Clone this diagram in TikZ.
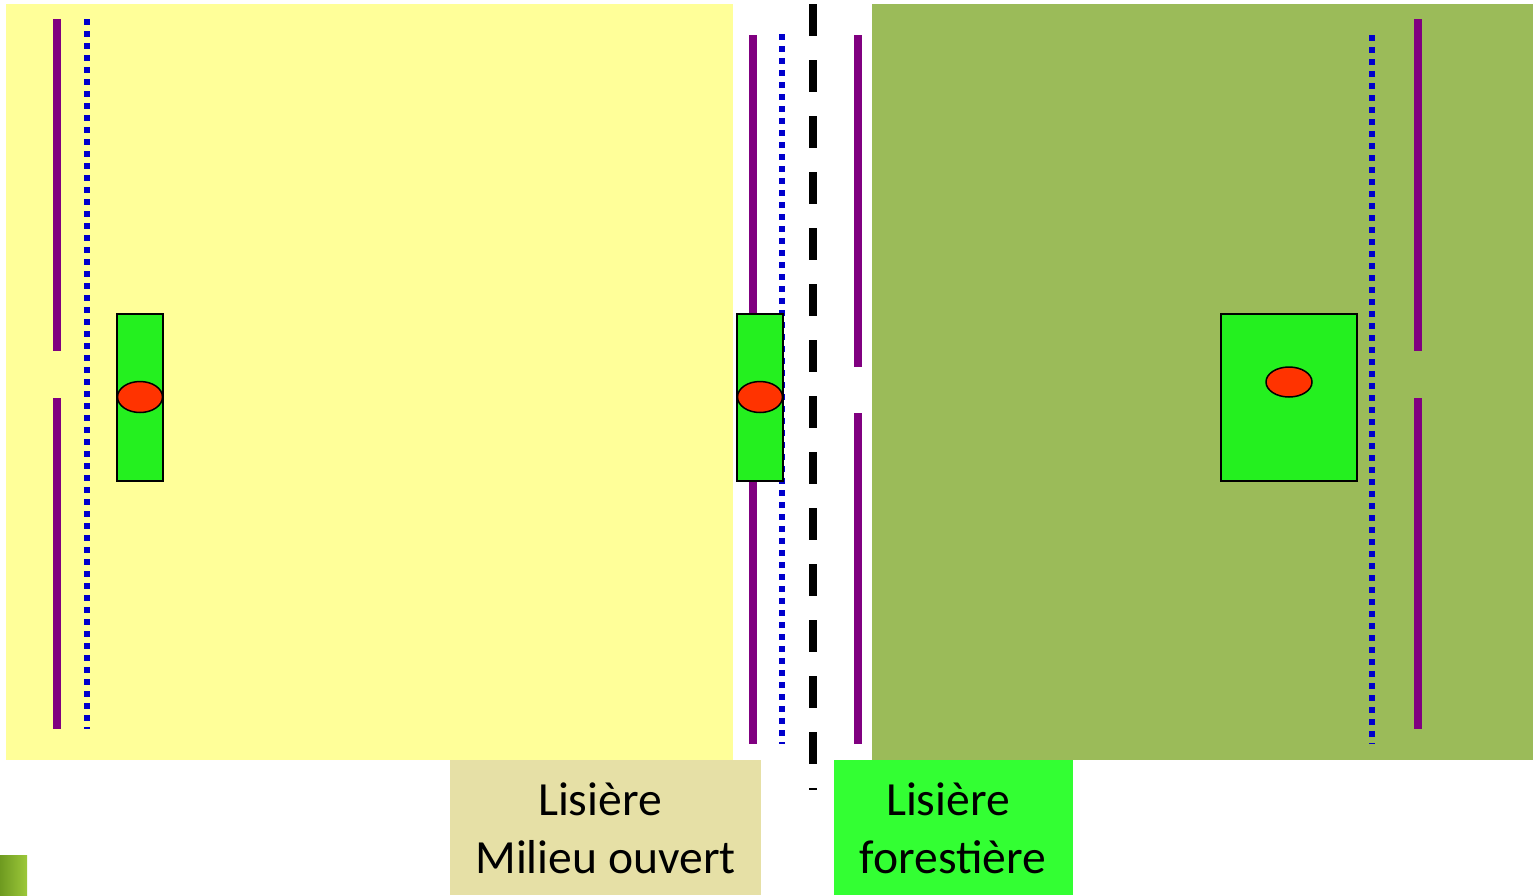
\documentclass[tikz,border=0pt]{standalone}
\usepackage{fontspec}
\setmainfont{Carlito}
\definecolor{openyellow}{HTML}{FFFF99}
\definecolor{forestolive}{HTML}{9BBB59}
\definecolor{purp}{HTML}{800080}
\definecolor{bluedot}{HTML}{0000CC}
\definecolor{plotgreen}{HTML}{24F01F}
\definecolor{spotred}{HTML}{FF3300}
\definecolor{beigebox}{HTML}{E6E0A6}
\definecolor{brightgreen}{HTML}{33FF33}
\definecolor{leafA}{HTML}{9CC83A}
\definecolor{leafB}{HTML}{6E9A20}
\begin{document}
\begin{tikzpicture}[x=1pt,y=-1pt,
  purpline/.style={draw=purp, line width=8pt},
  bdot/.style={draw=bluedot, line width=6pt, dash pattern=on 6pt off 6pt},
  plotbox/.style={draw=black, line width=1.3pt, fill=plotgreen},
  spot/.style={draw=black, line width=1.5pt, fill=spotred},
  blackdash/.style={draw=black, line width=8pt, dash pattern=on 32pt off 24pt},
  lab/.style={font=\fontsize{47.6}{56}\selectfont, inner sep=0pt, anchor=base}]
\useasboundingbox (0,0) rectangle (1533,895);
\fill[white] (0,0) rectangle (1533,895);
% areas
\fill[openyellow] (6,4) rectangle (733,760);
\fill[forestolive] (872,4) rectangle (1533,760);
% left side lines
\draw[purpline] (57,19) -- (57,351);
\draw[purpline] (57,398) -- (57,729);
\draw[bdot] (87,19) -- (87,729);
% middle lines
\draw[purpline] (752.5,35) -- (752.5,744);
\draw[bdot] (782,34) -- (782,744);
\draw[blackdash] (813,4) -- (813,790);
\draw[purpline] (858,35) -- (858,367);
\draw[purpline] (858,413) -- (858,744);
% right side lines
\draw[bdot] (1372,35) -- (1372,744);
\draw[purpline] (1418,19) -- (1418,351);
\draw[purpline] (1418,398) -- (1418,729);
% plots
\draw[plotbox] (117,314) rectangle (163,481);
\draw[spot] (140,397) ellipse [x radius=22.5, y radius=15.5];
\draw[plotbox] (737,314) rectangle (783,481);
\draw[spot] (760,397) ellipse [x radius=22.5, y radius=15.5];
\draw[plotbox] (1221,314) rectangle (1357,481);
\draw[spot] (1289,382) ellipse [x radius=23, y radius=15];
% label boxes
\fill[beigebox] (450,760) rectangle (761,895);
\node[lab] (la1) at (600,815) {Lisière};
\node[lab] (la2) at (605.5,873) {Milieu ouvert};
\fill[brightgreen] (834,760) rectangle (1073,895);
\node[lab] (lb1) at (948,815) {Lisière};
\node[lab] (lb2) at (953,873) {forestière};
% small picture fragment
\shade[left color=leafB, right color=leafA] (0,855) rectangle (27,895);
\end{tikzpicture}
\end{document}
